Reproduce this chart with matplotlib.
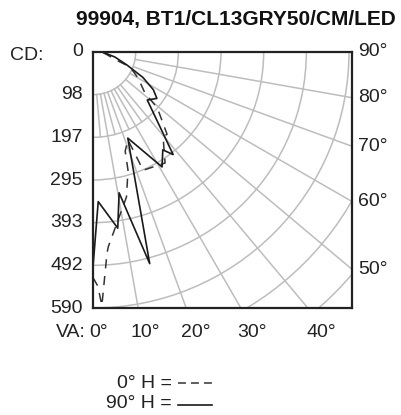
#!/usr/bin/env python3
# -*- coding: utf-8 -*-

import matplotlib
matplotlib.use('Agg')

import matplotlib.pyplot as plt
import numpy as np
from matplotlib.lines   import Line2D
from matplotlib.patches import Circle

plt.rcParams['font.family'] = ['Liberation Sans', 'DejaVu Sans']

title    = '99904, BT1/CL13GRY50/CM/LED'
cd_ticks = [0, 98, 197, 295, 393, 492, 590]
va_ticks = [0, 10, 20, 30, 40]
ha_ticks = [90, 80, 70, 60, 50]

# 0° H plane (dashed): vertical angle (deg) -> candela
h0_angle = [0, 1.2, 2, 4, 4.5, 13, 16.5, 18, 21.7, 23, 33, 39.5, 42, 47,
            49, 52, 60, 68, 71, 81, 90]
h0_cd    = [520, 540, 585, 464, 450, 343, 284, 240, 218, 296, 305, 254,
            255, 210, 196, 151, 120, 92, 56, 30, 20]

# 90° H plane (solid)
h90_angle = [0, 2, 8, 10.5, 15, 22, 31, 35.5, 38, 48.5, 54, 58, 63, 69,
             77, 90]
h90_cd    = [495, 345, 410, 330, 505, 214, 309, 277, 300, 167, 182, 164,
             129, 84, 52, 22]

W, H   = 402, 415
FS     = 14
CD_MAX = 590
STEP   = CD_MAX / 6


def polar_xy(angles, cd):
    a = np.radians(angles)
    cd = np.asarray(cd, dtype=float)
    return cd * np.sin(a), cd * np.cos(a)


def main():
    fig = plt.figure(figsize=(W / 100, H / 100), dpi=100)
    ax = fig.add_axes([93 / W, 1 - 308 / H, 259 / W, 256 / H])

    x_max = CD_MAX * 259 / 256
    ax.set_xlim(0, x_max)
    ax.set_ylim(CD_MAX, 0)
    ax.set_xticks([])
    ax.set_yticks([])
    for sp in ax.spines.values():
        sp.set_linewidth(1.6)
        sp.set_color('#222222')
        sp.set_zorder(5)

    grid = dict(color='#bdbdbd', lw=1.1, zorder=1)

    # rings
    for k in range(1, 9):
        ax.add_patch(Circle((0, 0), k * STEP, fill=False, **grid))

    # radial lines, start at the first ring
    for ang in range(10, 90, 10):
        x, y = polar_xy([ang, ang], [STEP, 1200])
        ax.plot(x, y, **grid)
    for ang in range(5, 45, 10):
        x, y = polar_xy([ang, ang], [STEP, 2 * STEP])
        ax.plot(x, y, **grid)

    x, y = polar_xy(h0_angle, h0_cd)
    ax.plot(x, y, color='#333333', lw=1.1, ls=(0, (6, 5)), zorder=3)
    x, y = polar_xy(h90_angle, h90_cd)
    ax.plot(x, y, color='#1a1a1a', lw=1.2, zorder=4)

    fig.text(236 / W, 1 - 19 / H, title, ha='center', va='center',
             fontsize=15, fontweight='bold', color='#111111')

    # CD labels on the left
    for v in cd_ticks:
        ax.annotate(str(v), xy=(0, v), xytext=(-10, 0),
                    textcoords='offset pixels', ha='right', va='center',
                    fontsize=FS, color='#222222', annotation_clip=False)
    fig.text(10 / W, 1 - 56 / H, 'CD:', ha='left', va='center',
             fontsize=FS, color='#222222')

    # horizontal-plane angle labels on the right
    for ang in ha_ticks:
        yv = x_max / np.tan(np.radians(ang))
        ax.annotate(f'{ang}°', xy=(x_max, yv), xytext=(6, 0),
                    textcoords='offset pixels', ha='left', va='center',
                    fontsize=FS, color='#222222', annotation_clip=False)

    # vertical angle labels along the bottom
    y_ref = CD_MAX * 264.6 / 256
    for ang in va_ticks:
        xv = y_ref * np.tan(np.radians(ang))
        ax.annotate(f'{ang}°', xy=(xv, CD_MAX), xytext=(6, -24),
                    textcoords='offset pixels', ha='center', va='center',
                    fontsize=FS, color='#222222', annotation_clip=False)
    fig.text(86 / W, 1 - 332 / H, 'VA:', ha='right', va='center',
             fontsize=FS, color='#222222')

    # key
    fig.text(172 / W, 1 - 383 / H, '0° H =', ha='right', va='center',
             fontsize=FS, color='#222222')
    fig.text(172 / W, 1 - 403 / H, '90° H =', ha='right', va='center',
             fontsize=FS, color='#222222')
    fig.add_artist(Line2D([178 / W, 212 / W], [1 - 383 / H, 1 - 383 / H],
                          color='#333333', lw=1.1, ls=(0, (5.2, 3.3))))
    fig.add_artist(Line2D([178 / W, 212 / W], [1 - 405 / H, 1 - 405 / H],
                          color='#1a1a1a', lw=1.2))

    fig.savefig('out.png', dpi=100)


if __name__ == '__main__':
    main()
